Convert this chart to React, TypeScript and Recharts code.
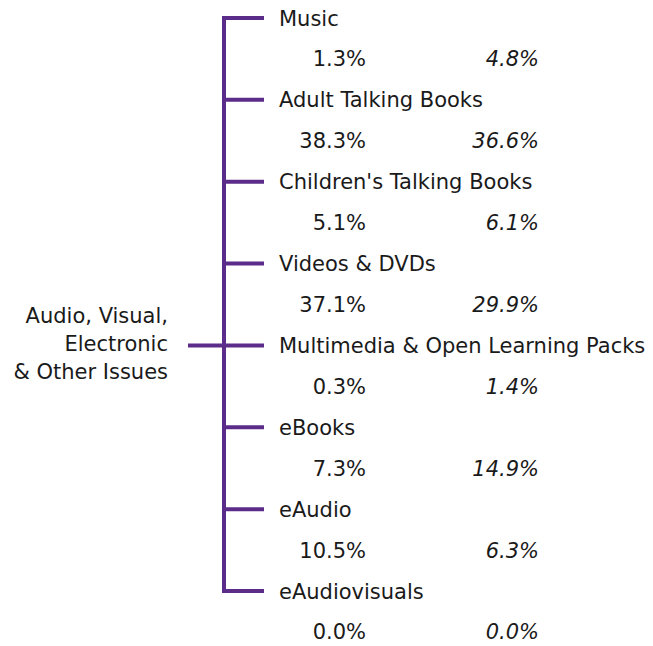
import React from 'react';
import { ComposedChart, XAxis, YAxis, Scatter, ReferenceLine } from 'recharts';

const categories = [
  'Music',
  'Adult Talking Books',
  "Children's Talking Books",
  'Videos & DVDs',
  'Multimedia & Open Learning Packs',
  'eBooks',
  'eAudio',
  'eAudiovisuals',
];
const firstValues = [1.3, 38.3, 5.1, 37.1, 0.3, 7.3, 10.5, 0.0];
const secondValues = [4.8, 36.6, 6.1, 29.9, 1.4, 14.9, 6.3, 0.0];
const rootLabel = ['Audio, Visual,', 'Electronic', '& Other Issues'];

const W = 653;
const H = 646;
const PURPLE = '#5b2c8a';
const TEXT = '#1a1a1a';
const FONT = '"DejaVu Sans", Verdana, sans-serif';
const FS = 21;

const TRUNK_X = 224;
const BRANCH_END_X = 264;
const NAME_X = 279;
const COL1_X = 366;
const COL2_X = 539;
const ROOT_START_X = 188;
const ROOT_LABEL_X = 168;

const rootRow = Math.floor(categories.length / 2);

const branchData = categories.map((name, i) => ({ x: TRUNK_X, y: i, name }));
const col1Data = firstValues.map((v, i) => ({ x: COL1_X, y: i + 0.5, v }));
const col2Data = secondValues.map((v, i) => ({ x: COL2_X, y: i + 0.5, v }));
const rootData = [{ x: ROOT_LABEL_X, y: rootRow }];

const fmt = (v: number) => `${v.toFixed(1)}%`;

const BranchShape = (props: any) => {
  const { cx, cy, payload } = props;
  return (
    <g>
      <line x1={cx} y1={cy} x2={BRANCH_END_X} y2={cy} stroke={PURPLE} strokeWidth={4} />
      <text x={NAME_X} y={cy} dy={7.5} fontFamily={FONT} fontSize={FS} fill={TEXT}>
        {payload.name}
      </text>
    </g>
  );
};

const Col1Shape = (props: any) => {
  const { cx, cy, payload } = props;
  return (
    <text x={cx} y={cy} dy={7.5} textAnchor="end" fontFamily={FONT} fontSize={FS} fill={TEXT}>
      {fmt(payload.v)}
    </text>
  );
};

const Col2Shape = (props: any) => {
  const { cx, cy, payload } = props;
  return (
    <text x={cx} y={cy} dy={7.5} textAnchor="end" fontFamily={FONT} fontSize={FS} fontStyle="italic" fill={TEXT}>
      {fmt(payload.v)}
    </text>
  );
};

const RootShape = (props: any) => {
  const { cx, cy } = props;
  return (
    <text x={cx} y={cy} textAnchor="end" fontFamily={FONT} fontSize={FS} fill={TEXT}>
      {rootLabel.map((line, i) => (
        <tspan key={i} x={cx} y={cy + 6 + (i - (rootLabel.length - 1) / 2) * 28}>
          {line}
        </tspan>
      ))}
    </text>
  );
};

// y scale: row 0 -> 18px, row 7 -> 591px
const PX_PER_ROW = (591 - 18) / (categories.length - 1);
const Y_MIN = -18 / PX_PER_ROW;
const Y_MAX = Y_MIN + H / PX_PER_ROW;

export default function App() {
  return (
    <div style={{ position: 'absolute', left: 0, top: 0, width: W, height: H, background: '#fff' }}>
      <ComposedChart width={W} height={H} margin={{ top: 0, right: 0, bottom: 0, left: 0 }}>
        <XAxis type="number" dataKey="x" domain={[0, W]} hide allowDataOverflow />
        <YAxis type="number" dataKey="y" domain={[Y_MIN, Y_MAX]} reversed hide allowDataOverflow />
        <ReferenceLine
          segment={[{ x: TRUNK_X, y: 0 }, { x: TRUNK_X, y: categories.length - 1 }]}
          stroke={PURPLE}
          strokeWidth={4}
          strokeLinecap="square"
          ifOverflow="visible"
        />
        <ReferenceLine
          segment={[{ x: ROOT_START_X, y: rootRow }, { x: TRUNK_X, y: rootRow }]}
          stroke={PURPLE}
          strokeWidth={4}
          ifOverflow="visible"
        />
        <Scatter data={branchData} shape={BranchShape} isAnimationActive={false} />
        <Scatter data={col1Data} shape={Col1Shape} isAnimationActive={false} />
        <Scatter data={col2Data} shape={Col2Shape} isAnimationActive={false} />
        <Scatter data={rootData} shape={RootShape} isAnimationActive={false} />
      </ComposedChart>
    </div>
  );
}
